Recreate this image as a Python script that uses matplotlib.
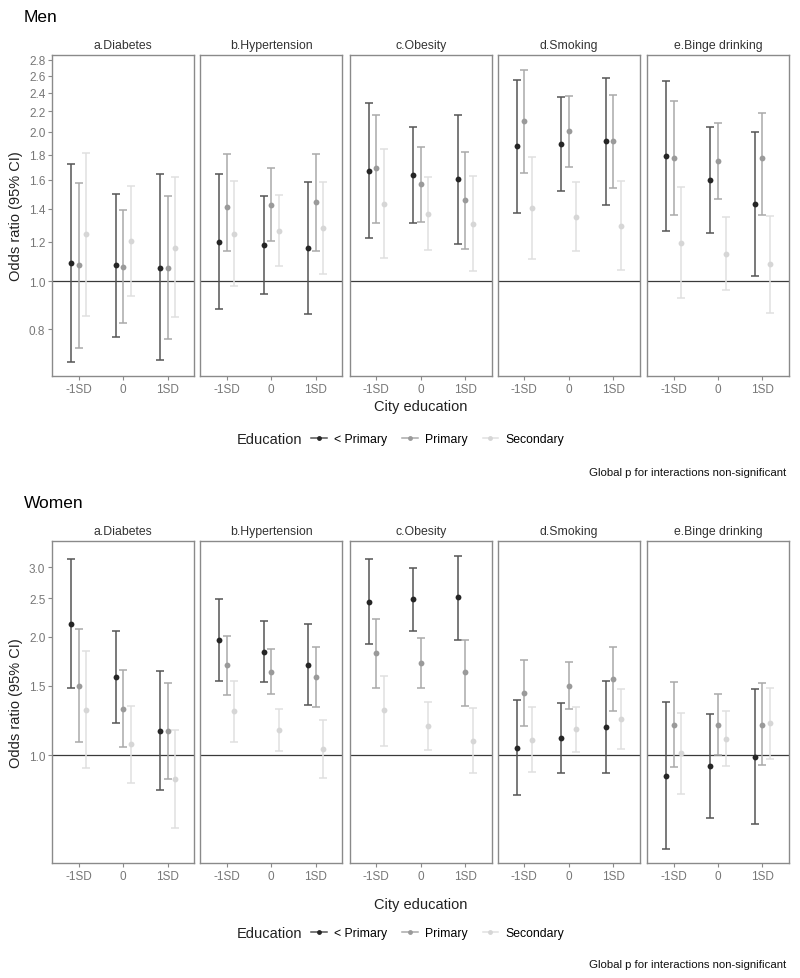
import matplotlib
matplotlib.use("Agg")
import matplotlib.pyplot as plt
from matplotlib.lines import Line2D
from matplotlib import font_manager
import numpy as np

# ---------------- data ----------------
outcomes = ["a.Diabetes", "b.Hypertension", "c.Obesity", "d.Smoking", "e.Binge drinking"]
levels = ["-1SD", "0", "1SD"]
groups = ["< Primary", "Primary", "Secondary"]

# [outcome][group][level]
men_or = [
    [[1.086, 1.077, 1.064], [1.077, 1.069, 1.064], [1.242, 1.206, 1.168]],
    [[1.197, 1.182, 1.164], [1.409, 1.426, 1.446], [1.246, 1.264, 1.278]],
    [[1.668, 1.640, 1.607], [1.689, 1.568, 1.455], [1.433, 1.366, 1.306]],
    [[1.871, 1.894, 1.918], [2.105, 2.006, 1.918], [1.404, 1.349, 1.294]],
    [[1.788, 1.600, 1.433], [1.772, 1.750, 1.775], [1.191, 1.134, 1.081]],
]
men_lo = [
    [[0.687, 0.771, 0.694], [0.733, 0.824, 0.764], [0.850, 0.934, 0.846]],
    [[0.878, 0.941, 0.858], [1.151, 1.203, 1.150], [0.975, 1.074, 1.033]],
    [[1.223, 1.310, 1.188], [1.310, 1.316, 1.159], [1.115, 1.155, 1.046]],
    [[1.370, 1.518, 1.426], [1.655, 1.702, 1.544], [1.108, 1.150, 1.051]],
    [[1.264, 1.252, 1.025], [1.359, 1.462, 1.359], [0.923, 0.959, 0.863]],
]
men_hi = [
    [[1.723, 1.499, 1.642], [1.575, 1.393, 1.487], [1.817, 1.556, 1.620]],
    [[1.642, 1.487, 1.582], [1.802, 1.694, 1.808], [1.595, 1.494, 1.587]],
    [[2.285, 2.047, 2.168], [2.168, 1.862, 1.825], [1.845, 1.620, 1.627]],
    [[2.543, 2.350, 2.571], [2.672, 2.361, 2.372], [1.780, 1.582, 1.590]],
    [[2.535, 2.047, 1.997], [2.306, 2.088, 2.185], [1.548, 1.347, 1.353]],
]

women_or = [
    [[2.151, 1.578, 1.153], [1.500, 1.314, 1.153], [1.306, 1.066, 0.869]],
    [[1.959, 1.826, 1.699], [1.690, 1.631, 1.578], [1.294, 1.160, 1.040]],
    [[2.447, 2.490, 2.519], [1.816, 1.719, 1.622], [1.301, 1.189, 1.090]],
    [[1.046, 1.107, 1.178], [1.440, 1.503, 1.563], [1.096, 1.166, 1.234]],
    [[0.888, 0.940, 0.992], [1.196, 1.196, 1.196], [1.012, 1.102, 1.204]],
]
women_lo = [
    [[1.483, 1.204, 0.817], [1.083, 1.052, 0.869], [0.929, 0.852, 0.654]],
    [[1.547, 1.533, 1.340], [1.418, 1.431, 1.324], [1.079, 1.024, 0.878]],
    [[1.914, 2.065, 1.963], [1.483, 1.485, 1.332], [1.058, 1.032, 0.902]],
    [[0.793, 0.902, 0.902], [1.189, 1.309, 1.293], [0.905, 1.020, 1.036]],
    [[0.578, 0.693, 0.668], [0.936, 1.004, 0.945], [0.798, 0.940, 0.979]],
]
women_hi = [
    [[3.140, 2.065, 1.638], [2.085, 1.647, 1.523], [1.844, 1.337, 1.160]],
    [[2.490, 2.185, 2.151], [2.013, 1.855, 1.881], [1.547, 1.314, 1.229]],
    [[3.152, 2.991, 3.202], [2.219, 1.982, 1.959], [1.587, 1.369, 1.319]],
    [[1.382, 1.361, 1.541], [1.743, 1.726, 1.881], [1.324, 1.324, 1.471]],
    [[1.369, 1.273, 1.471], [1.535, 1.434, 1.527], [1.278, 1.293, 1.480]],
]

men_yticks = [0.8, 1.0, 1.2, 1.4, 1.6, 1.8, 2.0, 2.2, 2.4, 2.6, 2.8]
women_yticks = [1.0, 1.5, 2.0, 2.5, 3.0]

# ---------------- style ----------------
avail = {f.name for f in font_manager.fontManager.ttflist}
base_font = "Liberation Sans Narrow" if "Liberation Sans Narrow" in avail else "Liberation Sans"
plt.rcParams["font.family"] = [base_font, "DejaVu Sans"]

point_colors = ["#262626", "#9a9a9a", "#d6d6d6"]
bar_colors = ["#555555", "#aaaaaa", "#e0e0e0"]
dodge = [-0.17, 0.0, 0.17]
spine_col = "#8a8a8a"
tick_col = "#777777"

W, H = 800, 979
fig = plt.figure(figsize=(W / 100, H / 100), dpi=100)


def rect(x0, y0, x1, y1):
    return [x0 / W, 1 - y1 / H, (x1 - x0) / W, (y1 - y0) / H]


panel_x = [52.3, 200.3, 349.7, 497.7, 647.0]
panel_w = 142.0


def draw_block(title, title_y, y0, y1, or_, lo_, hi_, yticks, ylim, xlab_y, leg_y, note_y):
    fig.text(24 / W, 1 - title_y / H, title, fontsize=12.5, va="center", ha="left", color="black")
    for k, name in enumerate(outcomes):
        ax = fig.add_axes(rect(panel_x[k], y0, panel_x[k] + panel_w, y1))
        ax.set_yscale("log")
        ax.axhline(1.0, color="#3a3a3a", lw=0.9, zorder=1)
        for g in range(3):
            xs = np.arange(1, 4) + dodge[g]
            y = np.array(or_[k][g])
            lo = np.array(lo_[k][g])
            hi = np.array(hi_[k][g])
            ax.errorbar(xs, y, yerr=[y - lo, hi - y], fmt="none", ecolor=bar_colors[g],
                        elinewidth=1.1, capsize=2.6, capthick=1.1, zorder=2 + g)
            ax.plot(xs, y, "o", color=point_colors[g], ms=4.2, mec="none", zorder=6 - g)
        ax.set_xlim(0.4, 3.6)
        ax.set_ylim(*ylim)
        ax.set_xticks([1, 2, 3])
        ax.set_xticklabels(levels)
        ax.yaxis.set_minor_locator(matplotlib.ticker.NullLocator())
        ax.set_yticks(yticks)
        ax.tick_params(axis="both", colors=spine_col, labelcolor=tick_col, labelsize=8.5,
                       length=3, width=0.8, pad=2)
        if k == 0:
            ax.set_yticklabels([f"{t:.1f}" for t in yticks])
            ax.set_ylabel("Odds ratio (95% CI)", fontsize=10.5, color="#222222", labelpad=4)
        else:
            ax.set_yticklabels([])
            ax.tick_params(axis="y", length=0, left=False)
        for s in ax.spines.values():
            s.set_color(spine_col)
            s.set_linewidth(1.0)
        ax.set_title(name, fontsize=8.8, color="#333333", pad=5)
    fig.text(420.7 / W, 1 - xlab_y / H, "City education", fontsize=10.5, ha="center",
             va="center", color="#222222")
    fig.text(302 / W, 1 - leg_y / H, "Education", fontsize=10.5, ha="right", va="center",
             color="#222222")
    handles = [Line2D([], [], color=bar_colors[g], marker="o", ms=3.5, mfc=point_colors[g],
                      mec="none", lw=1.1) for g in range(3)]
    fig.legend(handles, groups, loc="center left", bbox_to_anchor=(311 / W, 1 - leg_y / H),
               ncol=3, frameon=False, fontsize=8.8, handlelength=1.3, handletextpad=0.6,
               columnspacing=1.2, borderaxespad=0, borderpad=0)
    fig.text(786 / W, 1 - note_y / H, "Global p for interactions non-significant",
             fontsize=8.2, ha="right", va="center", color="#111111")


draw_block("Men", 17, 56, 376.7, men_or, men_lo, men_hi, men_yticks, (0.644, 2.86),
           407, 440, 473)
draw_block("Women", 503, 542.3, 864, women_or, women_lo, women_hi, women_yticks,
           (0.533, 3.49), 905, 934, 965)

fig.savefig("out.png", dpi=100)
